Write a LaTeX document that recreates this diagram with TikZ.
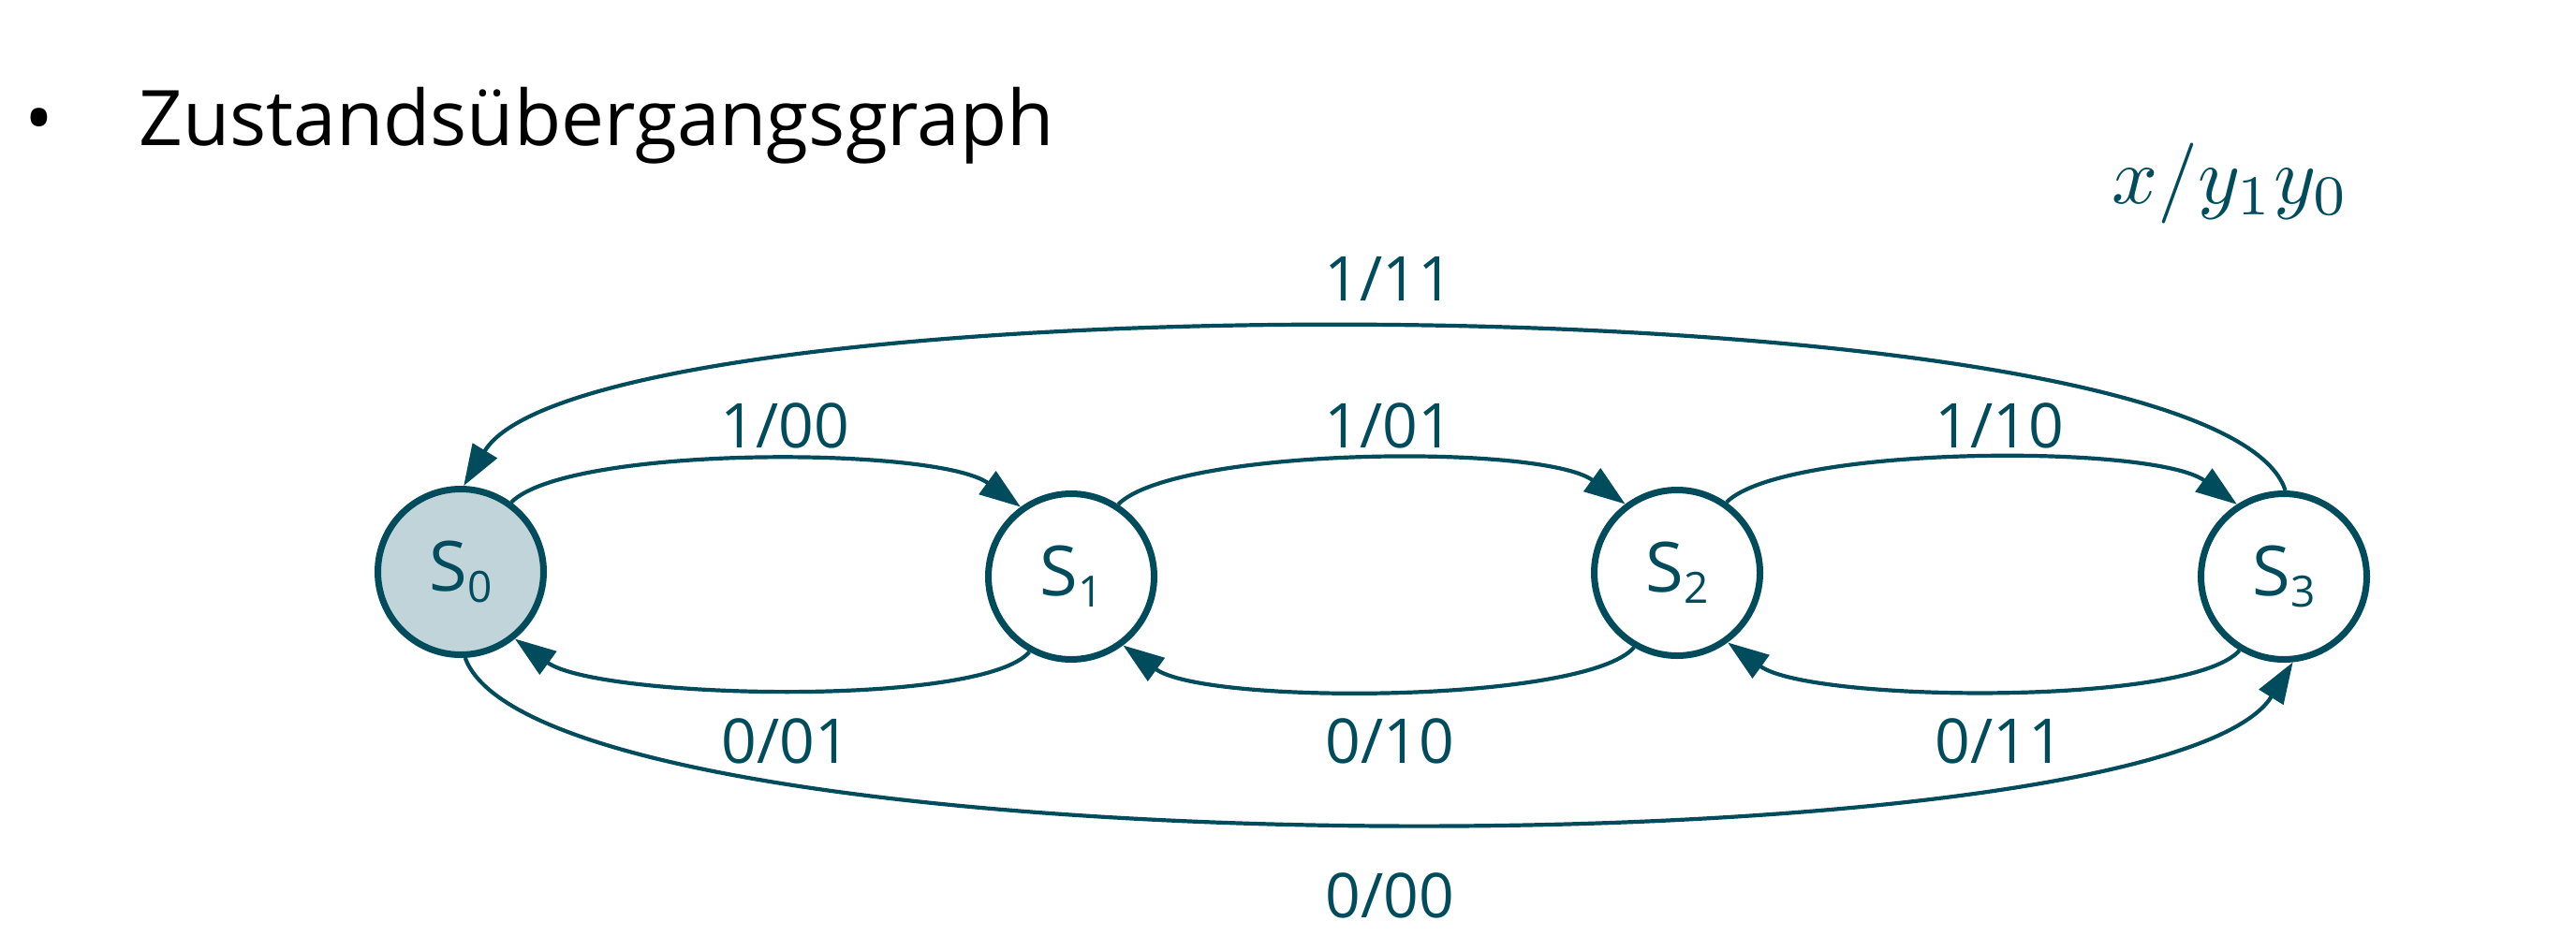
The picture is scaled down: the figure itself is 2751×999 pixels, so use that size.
\documentclass[tikz,border=0pt]{standalone}
\usepackage[no-math]{fontspec}
\setmainfont{Open Sans}
\usetikzlibrary{arrows.meta,calc}
\definecolor{tealdk}{RGB}{0,76,92}
\definecolor{sfill}{RGB}{192,212,217}
\begin{document}
\begin{tikzpicture}[x=1pt,y=-1pt,
  state/.style={circle,draw=tealdk,line width=7pt,minimum size=177pt,inner sep=0pt,
    text=tealdk,font=\fontsize{74}{80}\selectfont},
  edge/.style={draw=tealdk,line width=4.2pt,-{Triangle[length=44pt,width=30pt]}},
  lbl/.style={text=tealdk,inner sep=0pt,anchor=base,font=\fontsize{66}{70}\selectfont},
  title/.style={text=black,inner sep=0pt,font=\fontsize{82}{90}\selectfont}]
\useasboundingbox (0,0) rectangle (2751,999);

% title
\node[title,anchor=base] (bul) at (42,155) {•};
\node[title,anchor=base west] (ttl) at (148,155) {Zustandsübergangsgraph};
\node[text=tealdk,inner sep=0pt,anchor=base west] (leg) at (2255,217) {\scalebox{8.6}{$x/y_1y_0$}};

% states
\newcommand{\stlbl}[1]{S\raisebox{-12pt}{\fontsize{46}{46}\selectfont #1}}
\node[state,fill=sfill] (S0) at (492,611) {\stlbl{0}};
\node[state] (S1) at (1144,616) {\stlbl{1}};
\node[state] (S2) at (1791,612) {\stlbl{2}};
\node[state] (S3) at (2439,616) {\stlbl{3}};

% top short arcs
\draw[edge] (S0.54) .. controls ($(S0.54)+(61,-61)$) and ($(S1.126)+(-89,-65)$) .. (S1.126);
\draw[edge] (S1.57) .. controls ($(S1.57)+(61,-61)$) and ($(S2.127)+(-89,-65)$) .. (S2.127);
\draw[edge] (S2.55) .. controls ($(S2.55)+(61,-61)$) and ($(S3.123)+(-89,-65)$) .. (S3.123);

% bottom short arcs
\draw[edge] (S1.-119) .. controls ($(S1.-119)+(-52,60)$) and ($(S0.-51)+(88,64)$) .. (S0.-51);
\draw[edge] (S2.-120) .. controls ($(S2.-120)+(-52,60)$) and ($(S1.-53)+(88,64)$) .. (S1.-53);
\draw[edge] (S3.-121) .. controls ($(S3.-121)+(-52,60)$) and ($(S2.-54)+(88,64)$) .. (S2.-54);

% long arcs
\draw[edge] (S3.89) .. controls ($(S3.89)+(-74,-229)$) and ($(S0.88)+(135,-224)$) .. (S0.88);
\draw[edge] (S0.-87) .. controls ($(S0.-87)+(84,232)$) and ($(S3.-84)+(-142,228)$) .. (S3.-84);

% labels
\node[lbl] (l111) at (1483,321) {1/11};
\node[lbl] (l100) at (838,478) {1/00};
\node[lbl] (l101) at (1483,478) {1/01};
\node[lbl] (l110) at (2135,478) {1/10};
\node[lbl] (l001) at (839,815) {0/01};
\node[lbl] (l010) at (1484,815) {0/10};
\node[lbl] (l011) at (2135,815) {0/11};
\node[lbl] (l000) at (1484,980) {0/00};
\end{tikzpicture}
\end{document}
